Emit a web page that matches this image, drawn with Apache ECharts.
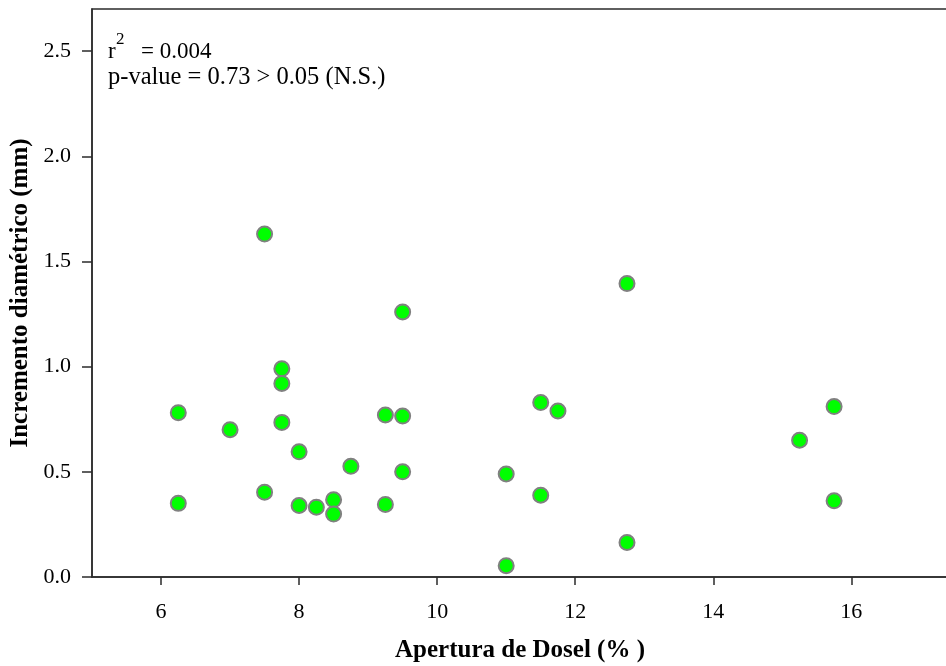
<!DOCTYPE html>
<html>
<head>
<meta charset="utf-8">
<script src="https://cdn.jsdelivr.net/npm/echarts@6/dist/echarts.min.js"></script>
<style>
html,body{margin:0;padding:0;background:#fff;}
#chart{width:946px;height:666px;}
</style>
</head>
<body>
<div id="chart"></div>
<script>
// Data
var aperturaX = [7.5, 9.5, 7.75, 7.75, 9.25, 9.5, 7.75, 7, 8, 8.75, 9.5, 7.5, 8, 8.25, 8.5, 8.5, 9.25, 12.75, 11.5, 11.75, 11, 11.5, 12.75, 11, 15.75, 15.25, 6.25, 6.25, 15.75];
var incrementoY = [1.63, 1.26, 0.99, 0.92, 0.77, 0.765, 0.735, 0.70, 0.595, 0.526, 0.50, 0.403, 0.34, 0.332, 0.367, 0.299, 0.345, 1.395, 0.829, 0.789, 0.49, 0.389, 0.164, 0.054, 0.81, 0.65, 0.781, 0.35, 0.362];
var xTicks = [6, 8, 10, 12, 14, 16];
var yTicks = [0, 0.5, 1.0, 1.5, 2.0, 2.5];
var xTitle = 'Apertura de Dosel (% )';
var yTitle = 'Incremento diamétrico (mm)';
var statR2 = '= 0.004';
var statP = 'p-value = 0.73 > 0.05 (N.S.)';

var points = aperturaX.map(function (x, i) { return [x, incrementoY[i]]; });
var font = '"Liberation Serif", "Times New Roman", serif';
var axisColor = '#2b2b2b';

var chart = echarts.init(document.getElementById('chart'), null, {renderer: 'canvas'});
chart.setOption({
  animation: false,
  backgroundColor: '#ffffff',
  grid: {left: 92, top: 9, width: 856, height: 568, containLabel: false, outerBoundsMode: 'none',
    show: true, borderColor: axisColor, borderWidth: 1.5, backgroundColor: 'transparent'},
  xAxis: {
    type: 'value', min: 5, max: 17.4,
    name: xTitle, nameLocation: 'middle', nameGap: 61,
    nameTextStyle: {fontFamily: font, fontSize: 25, fontWeight: 'bold', color: '#000'},
    axisLine: {show: true, lineStyle: {color: axisColor, width: 1.5}},
    axisTick: {show: true, length: 8, customValues: xTicks, lineStyle: {color: axisColor, width: 1.5}},
    axisLabel: {customValues: xTicks, margin: 24, fontFamily: font, fontSize: 22, color: '#000'},
    splitLine: {show: false}
  },
  yAxis: {
    type: 'value', min: 0, max: 2.7,
    name: yTitle, nameLocation: 'middle', nameGap: 56,
    nameTextStyle: {fontFamily: font, fontSize: 25, fontWeight: 'bold', color: '#000'},
    axisLine: {show: true, lineStyle: {color: axisColor, width: 1.5}},
    axisTick: {show: true, length: 10, customValues: yTicks, lineStyle: {color: axisColor, width: 1.5}},
    axisLabel: {customValues: yTicks, margin: 21, fontFamily: font, fontSize: 22, color: '#000',
      formatter: function (v) { return v.toFixed(1); }},
    splitLine: {show: false}
  },
  graphic: [
    {type: 'text', left: 108, top: 40, style: {text: 'r', font: '23px ' + font, fill: '#000'}},
    {type: 'text', left: 116, top: 31, style: {text: '2', font: '17px ' + font, fill: '#000'}},
    {type: 'text', left: 141, top: 40, style: {text: statR2, font: '23px ' + font, fill: '#000'}},
    {type: 'text', left: 108, top: 65, style: {text: statP, font: '24.5px ' + font, fill: '#000'}}
  ],
  series: [{
    type: 'scatter',
    data: points,
    symbol: 'circle',
    symbolSize: 15,
    itemStyle: {color: '#00ff00', borderColor: '#808080', borderWidth: 2, opacity: 1},
    emphasis: {disabled: true}
  }]
});
</script>
</body>
</html>
